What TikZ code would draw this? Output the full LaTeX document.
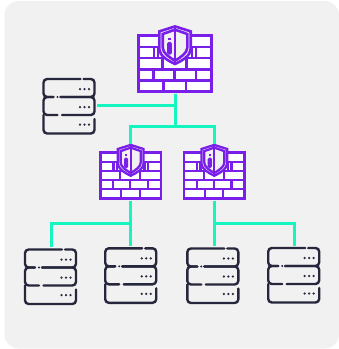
\documentclass[tikz,border=0pt]{standalone}
\definecolor{panelgrey}{HTML}{F1F1F1}
\definecolor{fwpurple}{HTML}{7A1FEA}
\definecolor{srvdark}{HTML}{26263C}
\definecolor{linkgreen}{HTML}{14F5C0}
\tikzset{
  anchorbox/.style={inner sep=0pt,outer sep=0pt,minimum width=#1},
  link/.style={draw=linkgreen,line width=3pt},
  srvline/.style={draw=srvdark,line width=2.4pt,line cap=round,rounded corners=3.6pt},
  fwline/.style={draw=fwpurple,line join=miter},
  pics/server/.style={code={
    \path[srvline] (37,0) -- (0,0) -- (0,18) -- (10,18);
    \path[srvline] (40,0) -- (51,0) -- (51,18) -- (17,18);
    \path[srvline] (14,36) -- (0,36) -- (0,18) -- (10,18);
    \path[srvline] (18.5,36) -- (51,36) -- (51,18) -- (17,18);
    \path[srvline] (0,36) -- (0,54.5) -- (51,54.5) -- (51,40);
    \fill[srvdark] (14,18) circle (1.1);
    \foreach \r in {10,28,45.5}{
      \foreach \d in {36.5,41,45.5}{\fill[srvdark] (\d,\r) circle (1.25);}
    }
  }},
  pics/firewall/.style={code={
    \fill[white] (-36.7,-28) rectangle (36.7,28);
    \draw[fwline] (-36.7,-28) rectangle (36.7,28);
    \foreach \y in {-16.8,-5.6,5.6,16.8}{\draw[fwline] (-36.7,\y) -- (36.7,\y);}
    \foreach \x in {-21,-17,17,21}{\draw[fwline] (\x,-16.8) -- (\x,-5.6);}
    \foreach \x in {-12.7,11.7}{\draw[fwline] (\x,-5.6) -- (\x,5.6);}
    \foreach \x in {-21.5,-0.7,21}{\draw[fwline] (\x,5.6) -- (\x,16.8);}
    \foreach \x in {-11.7,11}{\draw[fwline] (\x,16.8) -- (\x,28);}
    \draw[fwline,fill=panelgrey] (0,-37.3) -- (15.7,-32.3) -- (15.7,-14.7)
      .. controls (15.7,-8) and (7,-3) .. (0,0.3)
      .. controls (-7,-3) and (-15.7,-8) .. (-15.7,-14.7) -- (-15.7,-32.3) -- cycle;
    \draw[fwline] (0,-34) -- (12.3,-29.7) -- (12.3,-16)
      .. controls (12.3,-10.5) and (5,-6) .. (0,-3)
      .. controls (-5,-6) and (-12.3,-10.5) .. (-12.3,-16) -- (-12.3,-29.7) -- cycle;
    \draw[fwline] (0,-37.3) -- (0,0.3);
    \draw[fwline] (-5.5,-26) -- (-5.5,-23.5);
    \draw[fwline,rounded corners=0.8pt] (-6.6,-20.5) rectangle (-4.4,-10.5);
  }}
}
\begin{document}
\begin{tikzpicture}[x=1pt,y=-1pt]
\useasboundingbox (0,0) rectangle (339,349);
\fill[panelgrey,rounded corners=14pt] (4.5,1) rectangle (339,348.5);

% firewalls
\pic[line width=2.6pt] at (175,63.7) {firewall};
\pic[scale=0.82,line width=2.3pt] at (130.7,175.5) {firewall};
\pic[scale=0.82,line width=2.3pt] at (214.3,175.5) {firewall};
% servers
\pic at (43.5,79) {server};
\pic at (25,249.5) {server};
\pic at (105.2,248.3) {server};
\pic at (187.3,248.5) {server};
\pic at (268.2,248) {server};

% invisible named nodes covering each icon
\node[anchorbox=73.4pt,minimum height=67pt] (fwtop) at (175,60.8) {};
\node[anchorbox=60pt,minimum height=56.4pt] (fwleft) at (130,172.5) {};
\node[anchorbox=60pt,minimum height=56.4pt] (fwright) at (214,172.5) {};
\node[anchorbox=56pt,minimum height=58pt] (srvA) at (69,106.2) {};
\node[anchorbox=55pt,minimum height=58.5pt] (srvB) at (51,276.5) {};
\node[anchorbox=55pt,minimum height=58.5pt] (srvC) at (130,275.3) {};
\node[anchorbox=55pt,minimum height=58.5pt] (srvD) at (214,275) {};
\node[anchorbox=55pt,minimum height=58.5pt] (srvE) at (294,275) {};

\coordinate (busA) at (175,105);
\coordinate (busTop) at (175,126);
\coordinate (busL) at (130,223);
\coordinate (busR) at (214,223);

\draw[link] (fwtop.south) -- (busTop);
\draw[link] (busA) -- (srvA.east |- busA);
\draw[link] (fwleft.north) |- (busTop) -| (fwright.north);
\draw[link] (fwleft.south) -- (srvC.north);
\draw[link] (busL) -| (srvB.north);
\draw[link] (fwright.south) -- (srvD.north);
\draw[link] (busR) -| (srvE.north);
\end{tikzpicture}
\end{document}
